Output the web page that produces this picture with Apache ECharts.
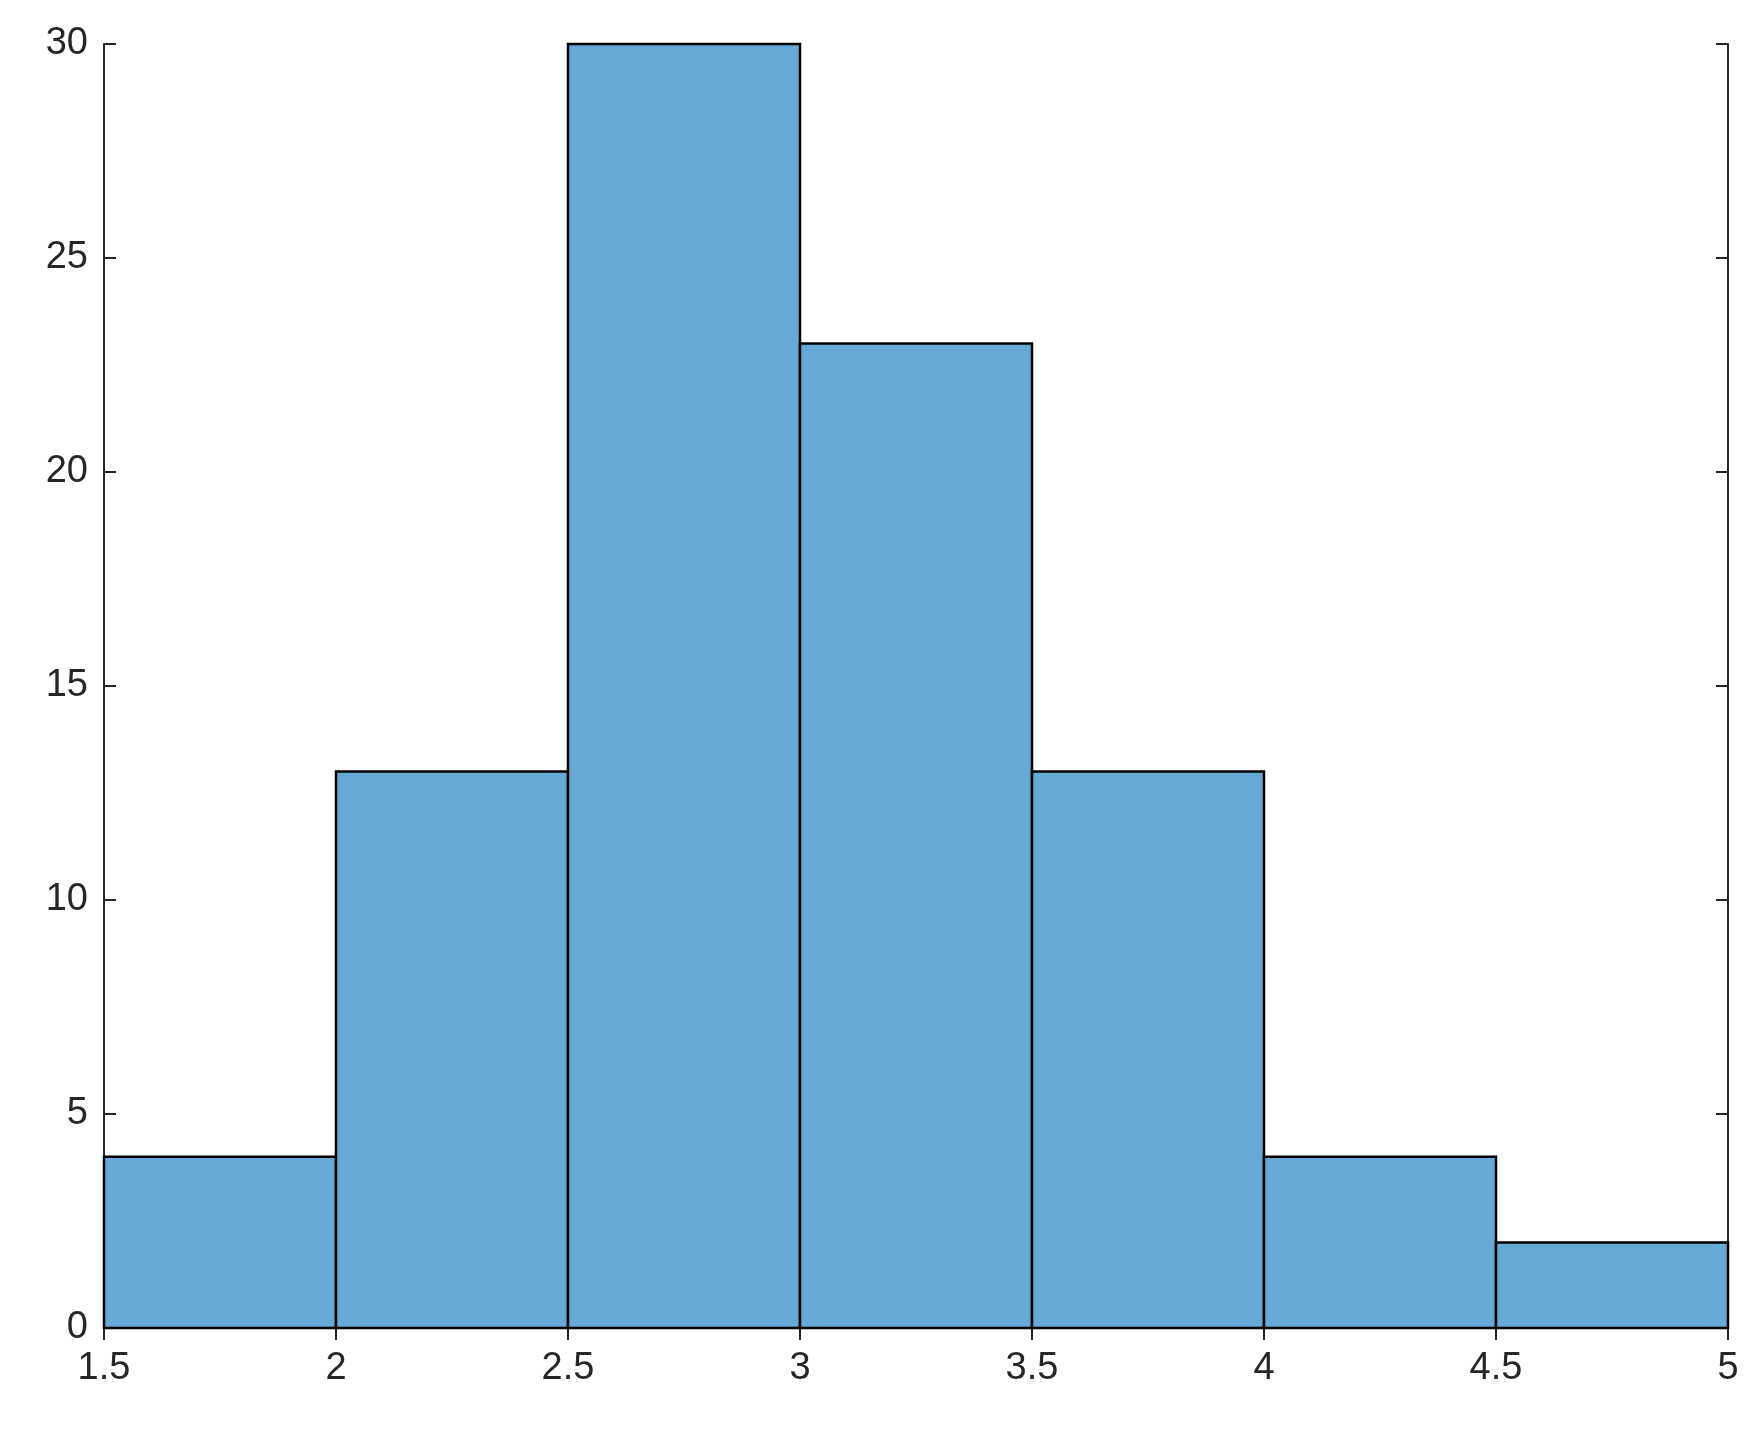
<!DOCTYPE html>
<html>
<head>
<meta charset="UTF-8">
<script src="https://cdn.jsdelivr.net/npm/echarts@6/dist/echarts.min.js"></script>
<style>html,body{margin:0;background:#fff}</style>
</head>
<body>
<div id="main" style="width:1757px;height:1431px"></div>
<script>
    // bin edges and counts
    var binStart = [1.5, 2, 2.5, 3, 3.5, 4, 4.5];
    var binEnd = [2, 2.5, 3, 3.5, 4, 4.5, 5];
    var counts = [4, 13, 30, 23, 13, 4, 2];

    var myChart = echarts.init(document.getElementById('main'));
    var data = counts.map(function (c, i) { return [binStart[i], binEnd[i], c]; });
    var axisText = {fontSize: 38, color: '#262626', fontFamily: 'Liberation Sans'};
    var line = {show: true, lineStyle: {color: '#262626', width: 2}};
    var tick = {show: true, inside: true, length: 12, lineStyle: {color: '#262626', width: 2}};

    myChart.setOption({
        animation: false,
        grid: {left: 104, right: 29, top: 44, bottom: 103},
        xAxis: [
            {type: 'value', min: 1.5, max: 5, interval: 0.5, axisLine: line, axisTick: tick,
             splitLine: {show: false}, axisLabel: Object.assign({margin: 22}, axisText)},
            {type: 'value', position: 'top', min: 1.5, max: 5, interval: 0.5, axisLine: line,
             axisTick: tick, splitLine: {show: false}, axisLabel: {show: false}}
        ],
        yAxis: [
            {type: 'value', min: 0, max: 30, interval: 5, axisLine: line, axisTick: tick,
             splitLine: {show: false}, axisLabel: Object.assign({margin: 16}, axisText)},
            {type: 'value', position: 'right', min: 0, max: 30, interval: 5, axisLine: line,
             axisTick: tick, splitLine: {show: false}, axisLabel: {show: false}}
        ],
        series: [{
            type: 'custom',
            data: data,
            renderItem: function (params, api) {
                var p0 = api.coord([api.value(0), 0]);
                var p1 = api.coord([api.value(1), api.value(2)]);
                return {
                    type: 'rect',
                    shape: {x: p0[0], y: p1[1], width: p1[0] - p0[0], height: p0[1] - p1[1]},
                    style: {fill: '#65a9d7', stroke: '#000', lineWidth: 2.5}
                };
            }
        }]
    });
</script>
</body>
</html>
